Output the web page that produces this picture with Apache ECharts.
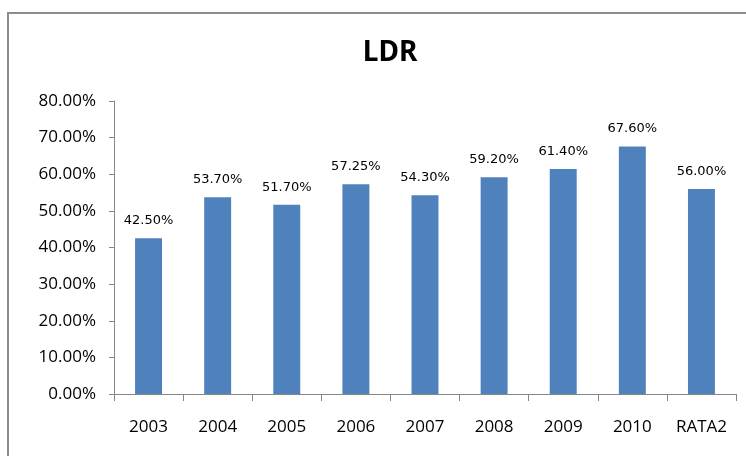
<!DOCTYPE html>
<html>
<head>
<meta charset="UTF-8">
<title>LDR</title>
<style>
  html, body { margin: 0; padding: 0; background: #fff; overflow: hidden; }
  #wrap { position: relative; width: 746px; height: 456px; overflow: hidden; }
  #frame { position: absolute; left: 7px; top: 12px; width: 800px; height: 500px;
           border: 2px solid #8c8c8c; box-sizing: border-box; }
  #chart { position: absolute; left: 0; top: 0; width: 746px; height: 456px; }
</style>
</head>
<body>
<div id="wrap">
  <div id="frame"></div>
  <div id="chart"></div>
</div>
<script src="https://cdn.jsdelivr.net/npm/echarts@6/dist/echarts.min.js"></script>
<script>
  // data
  const years = ['2003', '2004', '2005', '2006', '2007', '2008', '2009', '2010', 'RATA2']
  const ldr = [42.50, 53.70, 51.70, 57.25, 54.30, 59.20, 61.40, 67.60, 56.00]

  const chart = echarts.init(document.getElementById('chart'))

  chart.setOption({
    animation: false,
    title: {
      text: 'LDR',
      left: 385,
      top: 34,
      textAlign: 'center',
      textStyle: { fontFamily: 'Noto Sans', fontWeight: 'bold', fontSize: 28, color: '#000' }
    },
    grid: { left: 114, right: 10, top: 101, bottom: 62 },
    xAxis: {
      type: 'category',
      data: years,
      axisLine: { lineStyle: { color: '#868686' } },
      axisTick: { show: true, length: 7, lineStyle: { color: '#868686' } },
      axisLabel: { color: '#000', fontFamily: 'Open Sans', fontSize: 17, margin: 25 }
    },
    yAxis: {
      type: 'value',
      min: 0,
      max: 80,
      interval: 10,
      splitLine: { show: false },
      axisLine: { show: true, lineStyle: { color: '#868686' } },
      axisTick: { show: true, length: 5, lineStyle: { color: '#868686' } },
      axisLabel: {
        color: '#000', fontFamily: 'Open Sans', fontSize: 17, margin: 18,
        formatter: v => v.toFixed(2) + '%'
      }
    },
    series: [{
      type: 'bar',
      data: ldr,
      barWidth: '39%',
      itemStyle: { color: '#4f81bd' },
      label: {
        show: true,
        position: 'top',
        distance: 11,
        color: '#000',
        fontFamily: 'DejaVu Sans',
        fontSize: 13,
        formatter: p => p.value.toFixed(2) + '%'
      }
    }]
  })
</script>
</body>
</html>
